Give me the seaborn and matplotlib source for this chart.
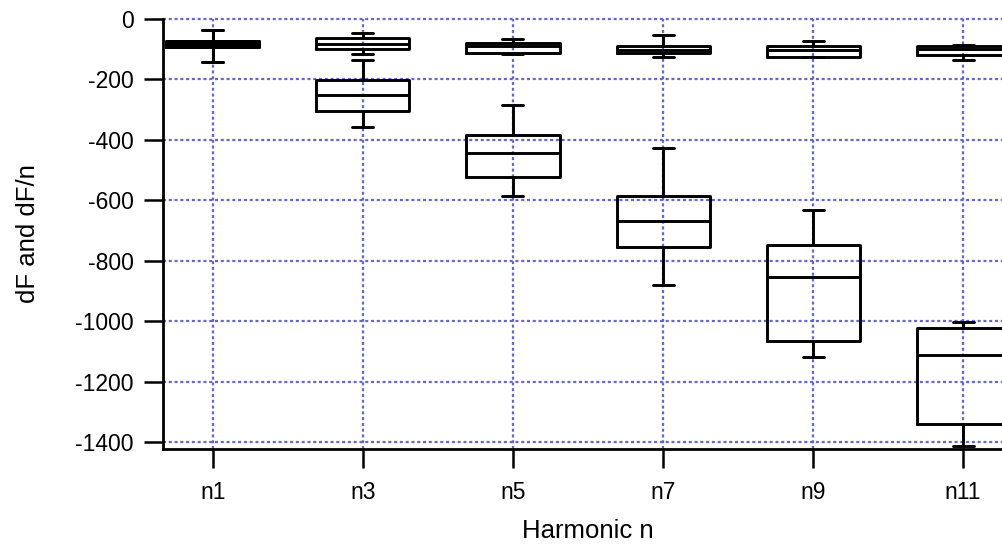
import numpy as np
import pandas as pd
import seaborn as sns
import matplotlib
matplotlib.use("Agg")
import matplotlib.pyplot as plt

harmonics = ["n1", "n3", "n5", "n7", "n9", "n11"]

# dF/n five-number summaries
dfn_low = [-143, -117, -117, -127, -127, -136]
dfn_q1 = [-94, -100, -111, -111, -127, -120]
dfn_med = [-82, -83, -88, -103, -103, -100]
dfn_q3 = [-72, -64, -80, -89, -89, -89]
dfn_high = [-37, -46, -65, -54, -74, -86]

# dF five-number summaries
df_low = [-143, -356, -586, -880, -1119, -1412]
df_q1 = [-94, -303, -523, -756, -1066, -1341]
df_med = [-82, -251, -445, -668, -853, -1111]
df_q3 = [-72, -203, -384, -586, -747, -1022]
df_high = [-37, -136, -286, -426, -632, -1003]

yticks = [0, -200, -400, -600, -800, -1000, -1200, -1400]


def long_table(low, q1, med, q3, high):
    rows = []
    for i, h in enumerate(harmonics):
        for v in (low[i], q1[i], med[i], q3[i], high[i]):
            rows.append({"harmonic": h, "value": v})
    return pd.DataFrame(rows)


data_dfn = long_table(dfn_low, dfn_q1, dfn_med, dfn_q3, dfn_high)
data_df = long_table(df_low, df_q1, df_med, df_q3, df_high)

sns.set_style("white")
plt.rcParams["font.family"] = ["Liberation Sans", "DejaVu Sans"]
plt.rcParams["text.color"] = "black"
plt.rcParams["axes.labelcolor"] = "black"

fig = plt.figure(figsize=(10.03, 5.49), dpi=100)
ax = fig.add_axes([0.1625, 0.1821, 0.8475, 0.7833])

lw = 2.1
common = dict(x="harmonic", y="value", order=harmonics, whis=(0, 100),
              width=0.62, fill=False, color="black", linecolor="black",
              linewidth=lw, capwidths=0.14, showfliers=False, ax=ax)
sns.boxplot(data=data_df, **common)
sns.boxplot(data=data_dfn, **common)

ax.set_xlim(-0.333, 5.333)
ax.set_ylim(-1423, 0)
ax.set_yticks(yticks)
ax.set_yticklabels([str(t) for t in yticks])

ax.grid(True, color="#6464d2", linestyle=(0, (1.35, 1.25)), linewidth=1.6)
ax.set_axisbelow(True)
for gl in ax.get_ygridlines():
    gl.set_clip_on(False)

for s in ["top", "right"]:
    ax.spines[s].set_visible(False)
for s in ["left", "bottom"]:
    ax.spines[s].set_color("black")
    ax.spines[s].set_linewidth(2.0)

ax.tick_params(axis="both", direction="out", length=14, width=1.8,
               color="black", labelcolor="black", labelsize=16.5,
               left=True, bottom=True)
ax.tick_params(axis="y", pad=7)
ax.tick_params(axis="x", pad=9)
ax.set_xlabel("Harmonic n", fontsize=18.5, color="black")
ax.set_ylabel("dF and dF/n", fontsize=18.5, color="black")
ax.yaxis.set_label_coords(-0.145, 0.5)
ax.xaxis.set_label_coords(0.5, -0.163)

fig.savefig("out.png", dpi=100)
